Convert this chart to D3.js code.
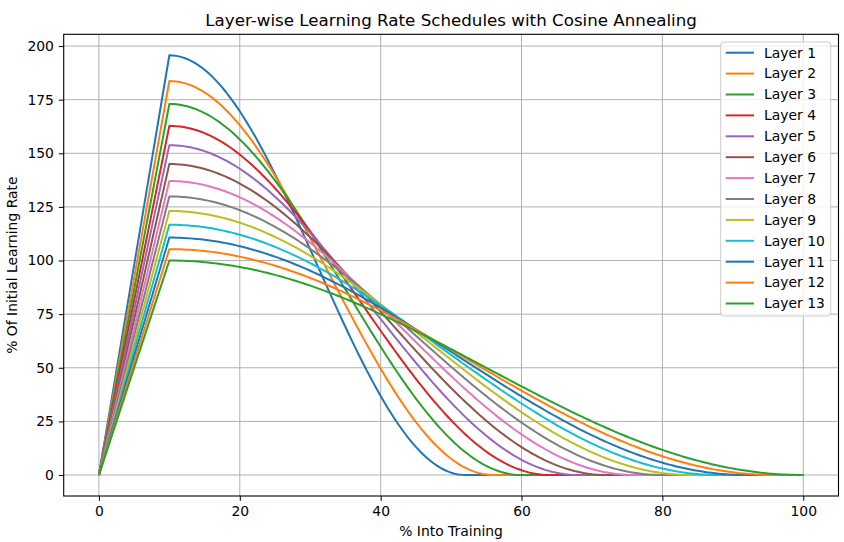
<!DOCTYPE html>
<html>
<head>
<meta charset="utf-8">
<script src="https://d3js.org/d3.v7.min.js"></script>
<style>
  body { margin: 0; background: #fff; }
  svg { display: block; font-family: "DejaVu Sans", sans-serif; }
</style>
</head>
<body>
<svg id="chart" width="844" height="542"></svg>
<script>
// values
const layers = ["Layer 1", "Layer 2", "Layer 3", "Layer 4", "Layer 5", "Layer 6", "Layer 7",
                "Layer 8", "Layer 9", "Layer 10", "Layer 11", "Layer 12", "Layer 13"];
const peakValues = [195.7, 183.7, 173.0, 162.8, 153.8, 145.0, 137.1, 129.9, 123.1, 116.7, 110.7, 105.3, 100.0];
const annealEnd = [52, 56, 60, 64, 68, 72, 76, 80, 84, 88, 92, 96, 100];
const warmupEnd = 10;
const xTicks = [0, 20, 40, 60, 80, 100];
const yTicks = [0, 25, 50, 75, 100, 125, 150, 175, 200];
const colors = ["#1f77b4", "#ff7f0e", "#2ca02c", "#d62728", "#9467bd", "#8c564b", "#e377c2",
                "#7f7f7f", "#bcbd22", "#17becf", "#1f77b4", "#ff7f0e", "#2ca02c"];

// linear warmup then cosine annealing down to zero, flat afterwards
function schedule(i) {
  const pts = [];
  for (let x = 0; x <= 100; x += 0.5) {
    let y;
    if (x <= warmupEnd) y = peakValues[i] * x / warmupEnd;
    else if (x <= annealEnd[i]) y = peakValues[i] * 0.5 * (1 + Math.cos(Math.PI * (x - warmupEnd) / (annealEnd[i] - warmupEnd)));
    else y = 0;
    pts.push([x, y]);
  }
  return pts;
}

const svg = d3.select("#chart");
const mLeft = 63.7, mRight = 838.5, mTop = 34.3, mBottom = 496;
const fs = 13.9;

const yMax = d3.max(peakValues);
const x = d3.scaleLinear().domain([-5, 105]).range([mLeft, mRight]);
const y = d3.scaleLinear().domain([-0.05 * yMax, 1.05 * yMax]).range([mBottom, mTop]);

// grid
svg.append("g").selectAll("line").data(xTicks).join("line")
  .attr("x1", d => x(d)).attr("x2", d => x(d)).attr("y1", mTop).attr("y2", mBottom)
  .attr("stroke", "#b0b0b0").attr("stroke-width", 1);
svg.append("g").selectAll("line").data(yTicks).join("line")
  .attr("y1", d => y(d)).attr("y2", d => y(d)).attr("x1", mLeft).attr("x2", mRight)
  .attr("stroke", "#b0b0b0").attr("stroke-width", 1);

// lines
const line = d3.line().x(d => x(d[0])).y(d => y(d[1]));
svg.append("g").selectAll("path").data(layers).join("path")
  .attr("d", (d, i) => line(schedule(i)))
  .attr("fill", "none").attr("stroke", (d, i) => colors[i])
  .attr("stroke-width", 2).attr("stroke-linejoin", "round");

// axes
const xAxis = svg.append("g").attr("transform", `translate(0,${mBottom})`)
  .call(d3.axisBottom(x).tickValues(xTicks).tickSize(4.9).tickPadding(4.9).tickFormat(d3.format("d")));
const yAxis = svg.append("g").attr("transform", `translate(${mLeft},0)`)
  .call(d3.axisLeft(y).tickValues(yTicks).tickSize(4.9).tickPadding(4.9).tickFormat(d3.format("d")));
[xAxis, yAxis].forEach(a => {
  a.select(".domain").remove();
  a.selectAll("text").attr("font-size", fs).attr("fill", "#000")
    .attr("font-family", "DejaVu Sans, sans-serif");
  a.selectAll("line").attr("stroke", "#000").attr("stroke-width", 1);
});

// frame
svg.append("rect").attr("x", mLeft).attr("y", mTop).attr("width", mRight - mLeft).attr("height", mBottom - mTop)
  .attr("fill", "none").attr("stroke", "#000").attr("stroke-width", 1.1);

// title and labels
svg.append("text").attr("x", (mLeft + mRight) / 2).attr("y", 26).attr("text-anchor", "middle")
  .attr("font-size", 16.7).text("Layer-wise Learning Rate Schedules with Cosine Annealing");
svg.append("text").attr("x", (mLeft + mRight) / 2).attr("y", 536).attr("text-anchor", "middle")
  .attr("font-size", fs).text("% Into Training");
svg.append("text").attr("transform", `translate(17,${(mTop + mBottom) / 2}) rotate(-90)`)
  .attr("text-anchor", "middle").attr("font-size", fs).text("% Of Initial Learning Rate");

// legend
const lg = svg.append("g");
lg.append("rect").attr("x", 720.7).attr("y", 42).attr("width", 110).attr("height", 274)
  .attr("rx", 3).attr("fill", "#fff").attr("fill-opacity", 0.8)
  .attr("stroke", "#cccccc").attr("stroke-width", 1);
const items = lg.selectAll("g.item").data(layers).join("g")
  .attr("transform", (d, i) => `translate(0,${52.7 + i * 20.9})`);
items.append("line").attr("x1", 725.7).attr("x2", 754).attr("stroke", (d, i) => colors[i]).attr("stroke-width", 2);
items.append("text").attr("x", 764).attr("dy", "0.35em").attr("font-size", fs).text(d => d);
</script>
</body>
</html>
